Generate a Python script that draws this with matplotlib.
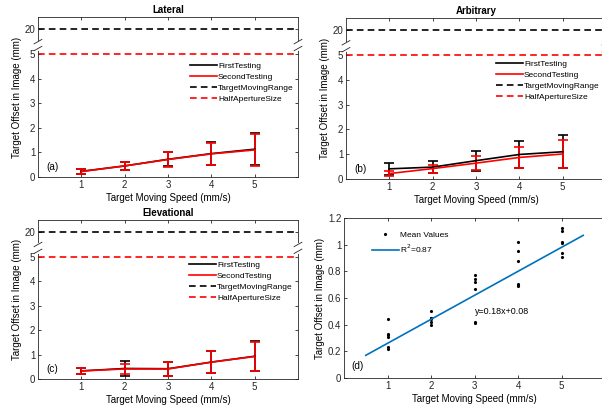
import numpy as np
import matplotlib
matplotlib.use('Agg')
import matplotlib.pyplot as plt

plt.rcParams['font.family'] = ['Liberation Sans', 'DejaVu Sans']

# datos
speeds = [1, 2, 3, 4, 5]
target_range = 20
half_aperture = 5

lat_first = [0.23, 0.45, 0.72, 0.95, 1.13]
lat_first_err = [0.09, 0.16, 0.29, 0.46, 0.65]
lat_second = [0.22, 0.45, 0.71, 0.94, 1.10]
lat_second_err = [0.09, 0.16, 0.29, 0.46, 0.64]

arb_first = [0.41, 0.48, 0.74, 0.99, 1.10]
arb_first_err = [0.24, 0.23, 0.40, 0.56, 0.66]
arb_second = [0.22, 0.42, 0.64, 0.87, 1.01]
arb_second_err = [0.09, 0.16, 0.29, 0.43, 0.57]

ele_first = [0.33, 0.43, 0.42, 0.69, 0.93]
ele_first_err = [0.13, 0.30, 0.29, 0.45, 0.61]
ele_second = [0.33, 0.41, 0.41, 0.69, 0.92]
ele_second_err = [0.13, 0.20, 0.29, 0.45, 0.58]

mean_x = [1, 1, 1, 1, 1, 1,
          2, 2, 2, 2, 2, 2,
          3, 3, 3, 3, 3, 3,
          4, 4, 4, 4, 4, 4,
          5, 5, 5, 5, 5, 5]
mean_y = [0.44, 0.32, 0.31, 0.23, 0.22, 0.33,
          0.50, 0.45, 0.44, 0.42, 0.40, 0.45,
          0.77, 0.74, 0.72, 0.67, 0.42, 0.41,
          1.02, 0.95, 0.875, 0.705, 0.70, 0.69,
          1.125, 1.10, 1.02, 0.94, 0.91, 1.01]
fit_x = [0.5, 5.5]
fit_y = [0.17, 1.07]

W, H = 602, 412


def px_box(l, t, r, b):
    return [l / W, 1 - b / H, (r - l) / W, (b - t) / H]


def broken(y):
    # eje roto: lo que pasa de 5.5 se baja a la zona de arriba
    y = np.asarray(y, dtype=float)
    return np.where(y > 5.5, y - 14, y)


def estilo(ax):
    for s in ax.spines.values():
        s.set_linewidth(0.6)
        s.set_color('#262626')
    ax.tick_params(direction='in', length=2.5, width=0.6, labelsize=7,
                   top=True, right=True, colors='#262626', pad=2)
    ax.set_xlim(0, 6)
    ax.set_xticks(speeds)


def panel(ax, titulo, letra, first, first_err, second, second_err, leg_xy):
    estilo(ax)
    ax.set_ylim(0, 6.5)
    ax.set_yticks([0, 1, 2, 3, 4, 5, float(broken(target_range))])
    ax.set_yticklabels(['0', '1', '2', '3', '4', '5', str(target_range)])
    e1 = ax.errorbar(speeds, first, yerr=first_err, color='black', lw=1.2,
                     capsize=3.5, capthick=1.2, elinewidth=1.2)
    e2 = ax.errorbar(speeds, second, yerr=second_err, color='red', lw=1.2,
                     capsize=3.5, capthick=1.2, elinewidth=1.2)
    l3 = ax.axhline(float(broken(target_range)), color='black', ls='--', lw=1.2,
                    dashes=(4, 2.5))
    l4 = ax.axhline(float(broken(half_aperture)), color='red', ls='--', lw=1.2,
                    dashes=(4, 2.5))
    ax.set_title(titulo, fontsize=7, fontweight='bold', pad=3)
    ax.set_xlabel('Target Moving Speed (mm/s)', fontsize=7, labelpad=2)
    ax.set_ylabel('Target Offset in Image (mm)', fontsize=7, labelpad=2)
    ax.text(0.2, 0.42, letra, fontsize=7.2, va='center')

    # marcas de corte en el eje
    tr = ax.get_yaxis_transform()
    for xs in (0, 1):
        ax.plot([xs, xs], [5.2, 5.5], transform=tr, color='white', lw=2,
                clip_on=False, zorder=5)
        for yb in (5.22, 5.5):
            ax.plot([xs - 0.015, xs + 0.015], [yb - 0.09, yb + 0.09],
                    transform=tr, color='#262626', lw=0.6, clip_on=False,
                    zorder=6)

    ax.legend([e1[0], e2[0], l3, l4],
              ['FirstTesting', 'SecondTesting', 'TargetMovingRange', 'HalfApertureSize'],
              loc='upper left', bbox_to_anchor=(leg_xy[0] / W, 1 - leg_xy[1] / H),
              bbox_transform=fig.transFigure, frameon=False, fontsize=6,
              handlelength=3.2, handletextpad=0.15, labelspacing=0.4,
              borderpad=0, borderaxespad=0)


fig = plt.figure(figsize=(W / 100, H / 100), dpi=100)

ax_a = fig.add_axes(px_box(38, 17, 298, 177))
panel(ax_a, 'Lateral', '(a)', lat_first, lat_first_err, lat_second, lat_second_err,
      (190, 62))

ax_b = fig.add_axes(px_box(346, 18, 606, 179))
panel(ax_b, 'Arbitrary', '(b)', arb_first, arb_first_err, arb_second, arb_second_err,
      (496, 60))

ax_c = fig.add_axes(px_box(38, 220, 298, 379))
panel(ax_c, 'Elevational', '(c)', ele_first, ele_first_err, ele_second, ele_second_err,
      (189, 261))

ax_d = fig.add_axes(px_box(344, 218, 605, 378))
estilo(ax_d)
ax_d.set_ylim(0, 1.2)
ax_d.set_yticks([0, 0.2, 0.4, 0.6, 0.8, 1.0, 1.2])
ax_d.set_yticklabels(['0', '0.2', '0.4', '0.6', '0.8', '1', '1.2'])
ax_d.plot(mean_x, mean_y, '.', color='black', ms=2.5, label='Mean Values')
ax_d.plot(fit_x, fit_y, color='#0072BD', lw=1.2, label='R$^2$=0.87')
ax_d.text(3.0, 0.5, 'y=0.18x+0.08', fontsize=6.4, va='center')
ax_d.text(0.17, 0.09, '(d)', fontsize=7.2, va='center')
ax_d.set_xlabel('Target Moving Speed (mm/s)', fontsize=7, labelpad=2)
ax_d.set_ylabel('Target Offset in Image (mm)', fontsize=7, labelpad=2)
ax_d.legend(loc='upper left', bbox_to_anchor=(372 / W, 1 - 231 / H),
            bbox_transform=fig.transFigure, frameon=False, fontsize=6,
            handlelength=3.2, handletextpad=0.15, labelspacing=0.4,
            borderpad=0, borderaxespad=0)

fig.savefig('out.png', dpi=100)
